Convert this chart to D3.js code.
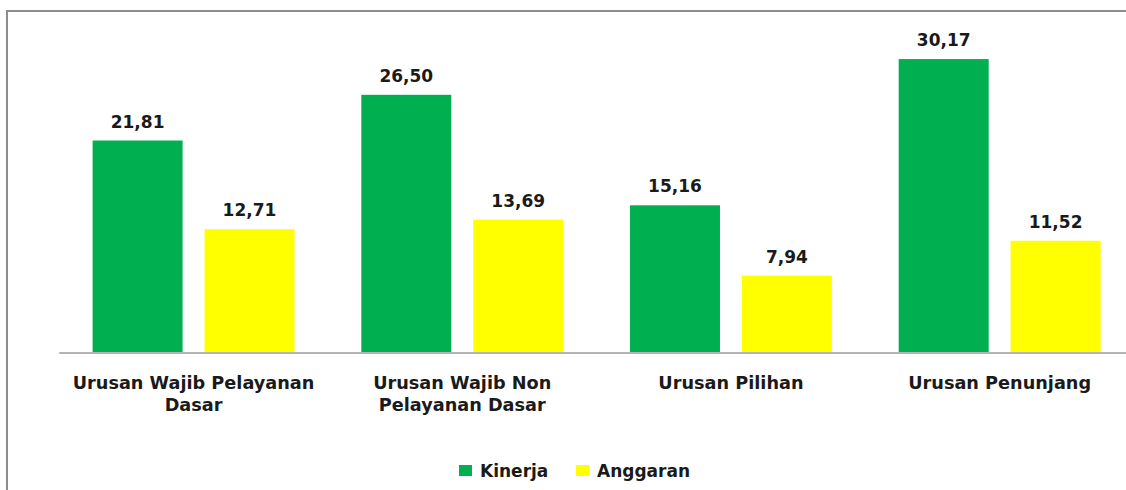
<!DOCTYPE html>
<html>
<head>
<meta charset="utf-8">
<script src="https://cdn.jsdelivr.net/npm/d3@7"></script>
<style>
  html, body { margin: 0; padding: 0; background: #fff; }
  svg { display: block; }
  text { font-family: "DejaVu Sans", sans-serif; font-weight: bold; fill: #1a1a1a; }
</style>
</head>
<body>
<svg id="chart" width="1126" height="490"></svg>
<script>
const categories = ["Urusan Wajib Pelayanan Dasar", "Urusan Wajib Non Pelayanan Dasar", "Urusan Pilihan", "Urusan Penunjang"];
const seriesNames = ["Kinerja", "Anggaran"];
const kinerja = [21.81, 26.50, 15.16, 30.17];
const anggaran = [12.71, 13.69, 7.94, 11.52];
const colors = ["#00B050", "#FFFF00"];
const yMax = 35;

const values = [kinerja, anggaran];
const svg = d3.select("#chart");

// frame
svg.append("rect").attr("x", 7).attr("y", 11).attr("width", 1200).attr("height", 600)
  .attr("fill", "none").attr("stroke", "#8c8c8c").attr("stroke-width", 2);

const plot = { left: 59.2, right: 1134, top: 12, bottom: 353 };
const x0 = d3.scaleBand().domain(categories).range([plot.left, plot.right]).padding(0);
const bw = x0.bandwidth();
const x1 = d3.scaleBand().domain(seriesNames).range([33.4, bw - 33.4]).paddingInner(0.196);
const y = d3.scaleLinear().domain([0, yMax]).range([plot.bottom, plot.top]);

const locale = d3.formatLocale({ decimal: ",", thousands: ".", grouping: [3], currency: ["", ""] });
const fmt = locale.format(".2f");

const groups = svg.append("g").selectAll("g").data(categories).join("g")
  .attr("transform", d => `translate(${x0(d)},0)`);

seriesNames.forEach((s, si) => {
  groups.append("rect")
    .attr("x", x1(s))
    .attr("width", x1.bandwidth())
    .attr("y", (d, i) => y(values[si][i]))
    .attr("height", (d, i) => y(0) - y(values[si][i]))
    .attr("fill", colors[si]);
  groups.append("text")
    .attr("x", x1(s) + x1.bandwidth() / 2)
    .attr("y", (d, i) => y(values[si][i]) - 13)
    .attr("text-anchor", "middle")
    .attr("font-size", 17)
    .text((d, i) => fmt(values[si][i]));
});

// axis
const xAxis = d3.axisBottom(x0).tickSize(0).tickPadding(0).tickFormat("");
const ax = svg.append("g").attr("transform", `translate(0,${plot.bottom})`).call(xAxis);
ax.select(".domain").attr("stroke", "#b3b3b3").attr("stroke-width", 2).attr("d", `M${plot.left},0H${plot.right}`);

// category labels with wrapping
svg.append("g").selectAll("text").data(categories).join("text")
  .attr("x", d => x0(d) + bw / 2)
  .attr("y", 389)
  .attr("text-anchor", "middle")
  .attr("font-size", 17.7)
  .each(function(d) {
    const t = d3.select(this);
    const words = d.split(" ");
    let line = [];
    let lines = [];
    const tmp = t.append("tspan");
    words.forEach(w => {
      line.push(w);
      tmp.text(line.join(" "));
      if (tmp.node().getComputedTextLength() > 255 && line.length > 1) {
        line.pop();
        lines.push(line.join(" "));
        line = [w];
      }
    });
    lines.push(line.join(" "));
    tmp.remove();
    lines.forEach((l, i) => {
      t.append("tspan").attr("x", x0(d) + bw / 2).attr("dy", i === 0 ? 0 : 22).text(l);
    });
  });

// legend
const legendX = [459, 576];
const lg = svg.append("g").selectAll("g").data(seriesNames).join("g")
  .attr("transform", (d, i) => `translate(${legendX[i]},465)`);
lg.append("rect").attr("width", 13).attr("height", 11).attr("fill", (d, i) => colors[i]);
lg.append("text").attr("x", 21).attr("y", 11.5).attr("font-size", 17).text(d => d);
</script>
</body>
</html>
